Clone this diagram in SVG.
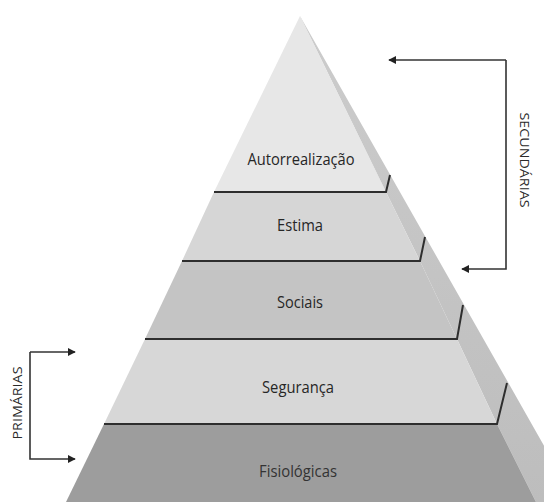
<svg xmlns="http://www.w3.org/2000/svg" width="544" height="502" viewBox="0 0 544 502">
<defs>
<style>
.lbl{font-family:"Open Sans","Noto Sans","DejaVu Sans",sans-serif;font-size:15.5px;font-weight:500;fill:#262626;text-anchor:middle}
.side{font-family:"Open Sans","Noto Sans","DejaVu Sans",sans-serif;font-size:12px;fill:#2a2a2a;text-anchor:middle}
.edge{fill:none;stroke:#2e2e2e;stroke-width:2;stroke-linejoin:miter}
.conn{fill:none;stroke:#333;stroke-width:1.6}
</style>
<marker id="ah" viewBox="0 0 10 10" refX="9" refY="5" markerWidth="8" markerHeight="8" markerUnits="userSpaceOnUse" orient="auto">
<path d="M0,0 L10,5 L0,10 z" fill="#222"/>
</marker>
<linearGradient id="sideg" x1="0" y1="0" x2="0" y2="1">
<stop offset="0" stop-color="#cccccc"/>
<stop offset="1" stop-color="#bdbdbd"/>
</linearGradient>
</defs>
<rect width="544" height="502" fill="#ffffff"/>
<g id="side-face">
<polygon points="300,16 576,502 536,502 497,424 457,339 420,261 386,192" fill="url(#sideg)"/>
<polygon points="300,16 304,26 386,192 384,192" fill="#bdbdbd" opacity="0.5"/>
</g>
<g id="autorrealizacao">
<polygon points="300,16 386,192 214,192" fill="#e7e7e7"/>
<text class="lbl" x="301" y="165" textLength="107" lengthAdjust="spacingAndGlyphs">Autorrealização</text>
</g>
<g id="estima">
<polygon points="214,192 386,192 420,261 182,261" fill="#d6d6d6"/>
<text class="lbl" x="300" y="231" textLength="46" lengthAdjust="spacingAndGlyphs">Estima</text>
</g>
<g id="sociais">
<polygon points="182,261 420,261 457,339 145,339" fill="#c4c4c4"/>
<text class="lbl" x="300" y="308" textLength="46" lengthAdjust="spacingAndGlyphs">Sociais</text>
</g>
<g id="seguranca">
<polygon points="145,339 457,339 497,424 104,424" fill="#d7d7d7"/>
<text class="lbl" x="298" y="393" textLength="72" lengthAdjust="spacingAndGlyphs">Segurança</text>
</g>
<g id="fisiologicas">
<polygon points="104,424 497,424 536,502 66,502" fill="#9d9d9d"/>
<text class="lbl" x="298" y="477" textLength="78" lengthAdjust="spacingAndGlyphs" style="fill:#333">Fisiológicas</text>
</g>
<g id="steps">
<polyline class="edge" points="214,192 386,192 390,175"/>
<polyline class="edge" points="182,261 420,261 425,237"/>
<polyline class="edge" points="145,339 457,339 463,305"/>
<polyline class="edge" points="104,424 497,424 507,383"/>
</g>
<g id="connectors">
<polyline class="conn" points="506,60 506,269 462,269" marker-end="url(#ah)"/>
<line class="conn" x1="506" y1="60" x2="389" y2="60" marker-end="url(#ah)"/>
<polyline class="conn" points="30,352 30,459 75,459" marker-end="url(#ah)"/>
<line class="conn" x1="30" y1="352" x2="75" y2="352" marker-end="url(#ah)"/>
</g>
<g id="secundarias">
<text class="side" transform="translate(520,160) rotate(90)" textLength="95" lengthAdjust="spacingAndGlyphs">SECUNDÁRIAS</text>
</g>
<g id="primarias">
<text class="side" transform="translate(22,403) rotate(-90)" textLength="73" lengthAdjust="spacingAndGlyphs">PRIMÁRIAS</text>
</g>
</svg>
